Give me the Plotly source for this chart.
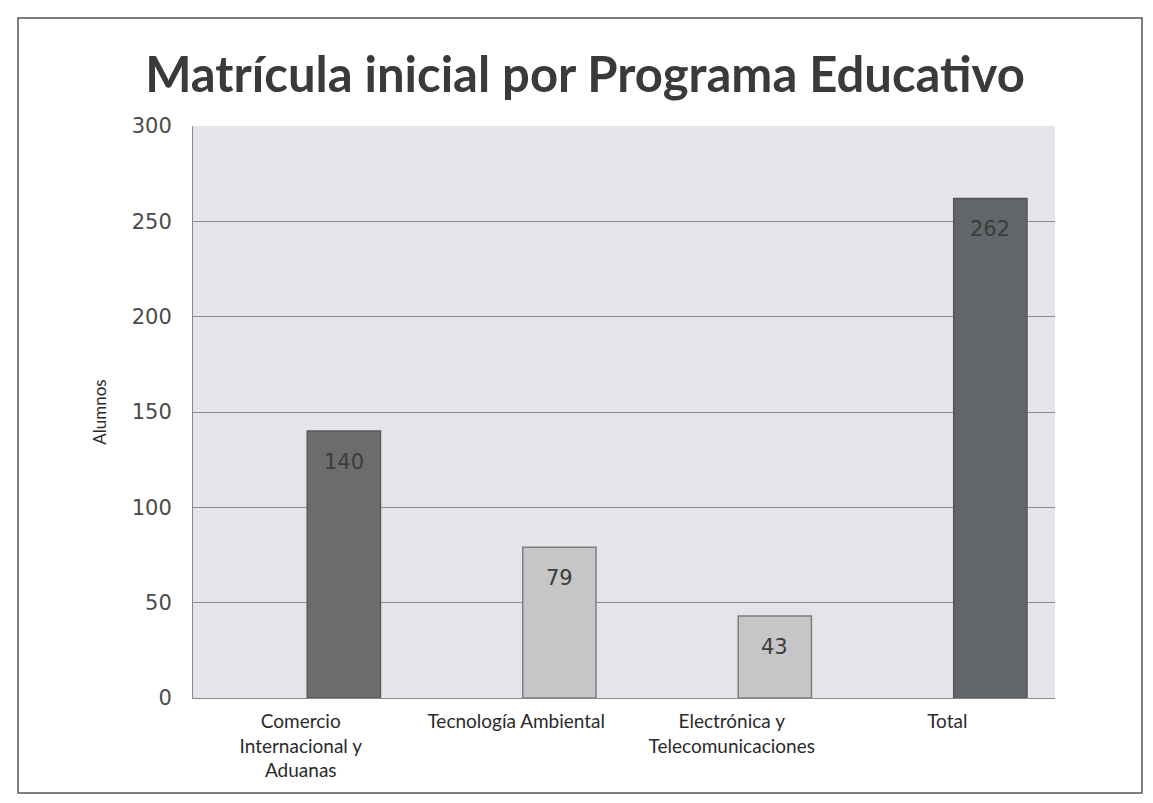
import plotly.graph_objects as go

categories = ["Comercio<br>Internacional y<br>Aduanas", "Tecnología Ambiental",
              "Electrónica y<br>Telecomunicaciones", "Total"]
values = [140, 79, 43, 262]
bar_colors = ["#6c6c6c", "#c6c6c8", "#c6c6c8", "#626668"]
line_colors = ["#5a5a5a", "#7e7e7e", "#7e7e7e", "#555555"]
y_ticks = [0, 50, 100, 150, 200, 250, 300]

# page has an 8px body margin; figure coords = screen coords - 8
W, H = 1137, 787
L, T = 185, 118
R = W - 1047
B = H - 690
pw, ph = W - L - R, H - T - B


def px(x):
    return (x - L) / pw


def py(y):
    return (H - B - y) / ph


fig = go.Figure()
fig.add_trace(go.Bar(
    x=categories, y=values,
    width=0.34, offset=0.03,
    marker=dict(color=bar_colors, line=dict(color=line_colors, width=1.5)),
    hoverinfo="x+y",
))

annotations = []
for c, v in zip(categories, values):
    annotations.append(dict(
        x=c, y=v, xref="x", yref="y", text=str(v), showarrow=False,
        xshift=0.20 * pw / 4, yshift=-31, yanchor="middle",
        font=dict(family="DejaVu Sans", size=21, color="#3c3c3c")))

fig.update_layout(
    width=W, height=H,
    margin=dict(l=L, r=R, t=T, b=B),
    paper_bgcolor="white",
    plot_bgcolor="#e5e5e9",
    showlegend=False,
    title=dict(text="<b>Matrícula inicial por Programa Educativo</b>",
               x=577 / W, xanchor="center", xref="container",
               y=1 - 67 / H, yanchor="middle",
               font=dict(family="Lato", size=49, color="#3a3a3a")),
    xaxis=dict(showgrid=False, showline=True, linecolor="#8a8a8a", linewidth=1,
               tickfont=dict(family="Lato", size=19, color="#2a2a2a"),
               ticks="outside", ticklen=6, tickcolor="rgba(0,0,0,0)",
               automargin=False),
    yaxis=dict(range=[0, 300], tickvals=y_ticks, showgrid=True, gridcolor="#8c8c8c",
               gridwidth=1, showline=True, linecolor="#8a8a8a", linewidth=1,
               zeroline=False, ticks="", ticklabelstandoff=16,
               tickfont=dict(family="DejaVu Sans", size=21, color="#4a4a4a"),
               title=dict(text="Alumnos", standoff=20,
                          font=dict(family="Lato", size=17, color="#2a2a2a")),
               automargin=False),
    annotations=annotations,
    shapes=[dict(type="rect", xref="paper", yref="paper",
                 x0=px(10), x1=px(1134), y0=py(785), y1=py(10),
                 line=dict(color="#555555", width=1.5), fillcolor="rgba(0,0,0,0)")],
)

fig.write_html("out.html")
